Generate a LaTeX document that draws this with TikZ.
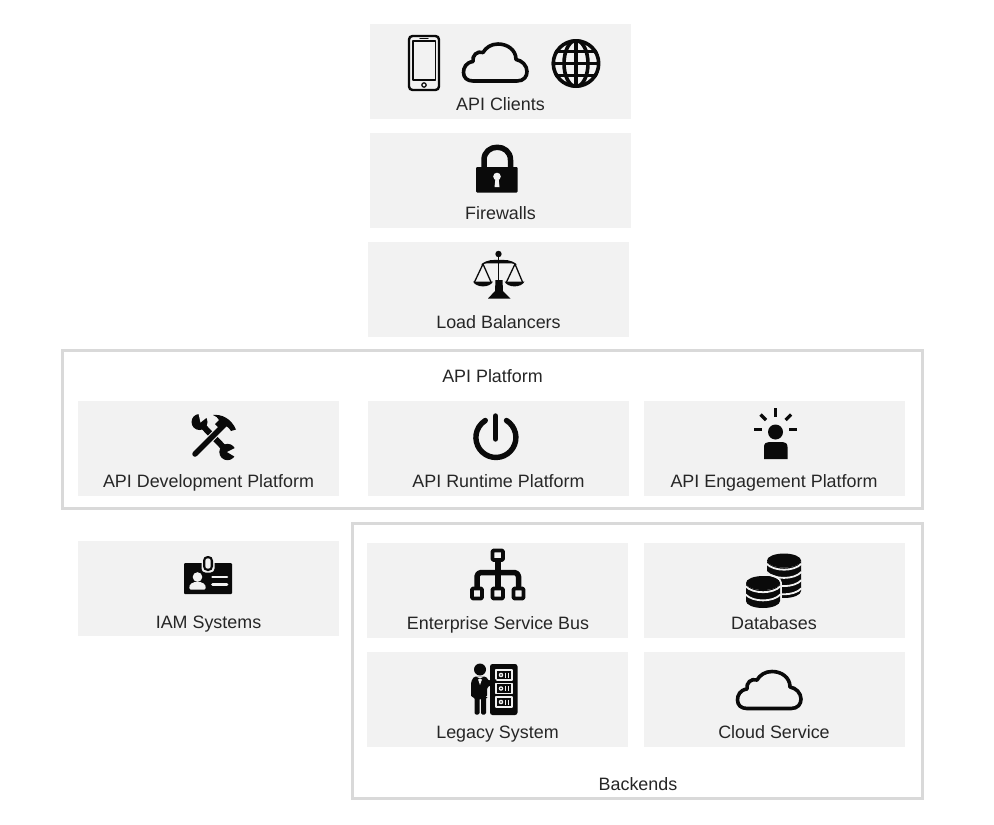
\documentclass[tikz,border=0pt]{standalone}
\usepackage{fontspec}
\setmainfont{Liberation Sans}
\definecolor{panelgray}{HTML}{F2F2F2}
\definecolor{framegray}{HTML}{D9D9D9}
\definecolor{inkdark}{HTML}{0A0A0A}
\definecolor{textdark}{HTML}{262626}
\tikzset{
  panel/.style={fill=panelgray,draw=none,inner sep=0pt,minimum width=261pt,minimum height=95pt},
  frame/.style={draw=framegray,line width=3pt,fill=white,inner sep=0pt},
  caption/.style={text=textdark,font=\fontsize{17.9}{20}\selectfont,inner sep=0pt,anchor=base},
  ink/.style={fill=inkdark,draw=none},
  inkline/.style={draw=inkdark,line cap=round,line join=round},
  gapline/.style={draw=panelgray,line cap=round,line join=round}
}
\newcommand{\cloudicon}[2]{%
  \begin{scope}[shift={(#1,#2)}]
    \draw[inkline,line width=3.6pt]
      (11,38.5) -- (55,38.5)
      .. controls (62,38.5) and (65,34) .. (65,29)
      .. controls (65,23) and (60,18) .. (54,17)
      .. controls (54,7) and (45,1.5) .. (36,1.5)
      .. controls (29,1.5) and (24,5) .. (21,10)
      .. controls (15,8) and (10,13) .. (11,19)
      .. controls (4,20) and (1.5,25) .. (1.5,30)
      .. controls (1.5,35) and (5,38.5) .. (11,38.5) -- cycle;
  \end{scope}}
\newcommand{\coinstack}[4]{% cx, top cy, number of gap arcs, bottom cy
  \fill[inkdark] (#1-17,#2) arc (180:360:17pt and 7pt) -- (#1+17,#4)
     arc (0:-180:17pt and 7pt) -- cycle;
  \fill[inkdark] (#1,#2) ellipse (17pt and 7pt);
  \foreach \k in {1,...,#3}{
    \draw[gapline,line width=1.8pt,line cap=butt] (#1-17.5,#2+8.2*\k-5) .. controls (#1-10,#2+8.2*\k+3) and (#1+10,#2+8.2*\k+3) .. (#1+17.5,#2+8.2*\k-5);
  }}
\begin{document}
\begin{tikzpicture}[x=1pt,y=-1pt]
\useasboundingbox (0,0) rectangle (994,825);
\fill[white] (0,0) rectangle (994,825);

% frames
\node[frame,minimum width=860pt,minimum height=158pt] (platformframe) at (492,429) {};
\node[frame,minimum width=570pt,minimum height=275pt] (backendframe) at (637,660.5) {};

% panels
\node[panel] (clients) at (500.5,71.5) {};
\node[panel] (firewalls) at (500.5,180.5) {};
\node[panel] (balancers) at (498.5,289.5) {};
\node[panel] (devplat) at (208.5,448.5) {};
\node[panel] (runplat) at (498.5,448.5) {};
\node[panel] (engplat) at (774,448.5) {};
\node[panel] (iam) at (208.5,588.5) {};
\node[panel] (esb) at (497.5,590) {};
\node[panel] (databases) at (774,590) {};
\node[panel] (legacy) at (497.5,699) {};
\node[panel] (cloudsvc) at (774,699.5) {};

% captions
\node[caption] (tclients) at (500.5,110) {API Clients};
\node[caption] (tfirewalls) at (500.5,219) {Firewalls};
\node[caption] (tbalancers) at (498.5,328) {Load Balancers};
\node[caption] (tplatform) at (492.5,382) {API Platform};
\node[caption] (tdev) at (208.5,487) {API Development Platform};
\node[caption] (trun) at (498.5,487) {API Runtime Platform};
\node[caption] (teng) at (774,487) {API Engagement Platform};
\node[caption] (tiam) at (208.5,628) {IAM Systems};
\node[caption] (tesb) at (498,629) {Enterprise Service Bus};
\node[caption] (tdb) at (774,629) {Databases};
\node[caption] (tlegacy) at (497.5,738) {Legacy System};
\node[caption] (tcloud) at (774,738) {Cloud Service};
\node[caption] (tbackends) at (638,790) {Backends};

% phone
\draw[inkline,line width=2.4pt,rounded corners=3.5pt] (409,36) rectangle (439,90);
\draw[inkline,line width=1.3pt] (413,41) rectangle (435.5,80);
\draw[inkline,line width=1.2pt] (424,85) circle (2.2pt);
\draw[inkline,line width=1.2pt] (420,38.3) -- (428,38.3);

% cloud (clients)
\cloudicon{462}{42.5}

% globe
\begin{scope}
  \clip (576,63.5) circle (24.5pt);
  \draw[inkline,line width=3.6pt,line cap=butt] (576,63.5) ellipse (12pt and 23pt);
  \draw[inkline,line width=3.6pt,line cap=butt] (576,39) -- (576,88);
  \draw[inkline,line width=3.6pt,line cap=butt] (551,63.5) -- (601,63.5);
  \draw[inkline,line width=3.6pt,line cap=butt] (551,51.5) -- (601,51.5);
  \draw[inkline,line width=3.6pt,line cap=butt] (551,75.5) -- (601,75.5);
\end{scope}
\draw[inkline,line width=3.6pt] (576,63.5) circle (22.7pt);

% lock
\draw[inkline,line width=5.5pt,line cap=butt] (484,170) -- (484,160) .. controls (484,143) and (510.5,143) .. (510.5,160) -- (510.5,170);
\fill[ink,rounded corners=1pt] (476,167) rectangle (517.5,192.5);
\fill[panelgray] (497,176.5) circle (3.8pt);
\fill[panelgray] (495.5,178) -- (498.5,178) -- (499.5,187) -- (494.5,187) -- cycle;

% scales
\fill[ink] (498.5,254) circle (3.2pt);
\draw[inkline,line width=1.8pt] (498.5,255) -- (498.5,284);
\fill[ink] (481,264.5) .. controls (488,259) and (493,260) .. (499,260) .. controls (505,260) and (510,259) .. (517,264.5) .. controls (510,262.5) and (505,263.5) .. (499,263.5) .. controls (493,263.5) and (488,262.5) .. (481,264.5) -- cycle;
\draw[inkline,line width=1.3pt] (474.5,282) -- (483,264) -- (491,282);
\draw[inkline,line width=1.3pt] (506.5,282) -- (515,264) -- (522.5,282);
\fill[ink] (473,281.5) -- (493,281.5) .. controls (490,288) and (476,288) .. (473,281.5) -- cycle;
\fill[ink] (504.5,281.5) -- (524.5,281.5) .. controls (521.5,288) and (507.5,288) .. (504.5,281.5) -- cycle;
\fill[ink] (495.5,280) -- (502.5,280) -- (503,291) -- (510.5,298.5) -- (488,298.5) -- (495,291) -- cycle;

% tools
\draw[inkline,line width=6pt,line cap=butt] (199,422) -- (228,452);
\fill[ink] (199.5,422) circle (8pt);
\fill[ink] (227.5,452) circle (8.2pt);
\fill[panelgray] (200.5,422.5) -- (198,411.5) -- (210.5,414.5) -- cycle;
\fill[panelgray] (227,452) -- (239,446) -- (238,458.5) -- cycle;
\draw[gapline,line width=7.5pt,line cap=butt] (204,445) -- (222,427);
\draw[inkline,line width=5.5pt] (195,454) -- (224,425);
\fill[ink] (213,415) .. controls (221,414) and (231,418) .. (236,429.5) -- (231,431) .. controls (229,428) and (227,426) .. (224.5,425.5) -- (220.5,429.5) -- (215,424) -- (219,420) .. controls (218,418) and (216,416) .. (213,415) -- cycle;

% power
\draw[inkline,line width=5.4pt,line cap=round] (506.5,420.5) arc (58:-238:20pt);
\draw[inkline,line width=5.4pt] (495.5,416) -- (495.5,439);

% engagement
\fill[ink] (775.5,432) circle (7.5pt);
\fill[ink] (764,459) -- (764,447) .. controls (764,443.5) and (766,442) .. (769,442) -- (782.5,442) .. controls (785.5,442) and (787.5,443.5) .. (787.5,447) -- (787.5,459) -- cycle;
\draw[inkline,line width=3.2pt,line cap=butt] (775.5,408) -- (775.5,417);
\draw[inkline,line width=3.2pt,line cap=butt] (760.5,414.5) -- (766,420);
\draw[inkline,line width=3.2pt,line cap=butt] (791,414.5) -- (785.5,420);
\draw[inkline,line width=3.2pt,line cap=butt] (754,429.5) -- (762,429.5);
\draw[inkline,line width=3.2pt,line cap=butt] (789,429.5) -- (797,429.5);

% id badge
\fill[ink,rounded corners=1pt] (184,563) rectangle (232,594);
\fill[panelgray,rounded corners=4pt] (201.5,558) rectangle (214.5,572.5);
\fill[ink,rounded corners=4.5pt] (203,556) rectangle (213,571);
\fill[panelgray,rounded corners=2.5pt] (205.3,558.3) rectangle (210.7,568.7);
\fill[panelgray] (197.5,577) circle (4.8pt);
\fill[panelgray,rounded corners=1.5pt] (189,589.5) -- (190,584) -- (196,581.5) -- (199,581.5) -- (205,584) -- (206,589.5) -- cycle;
\draw[gapline,line width=2.6pt] (212.5,577) -- (227,577);
\draw[gapline,line width=2.6pt] (212.5,584.5) -- (227,584.5);

% ESB
\draw[inkline,line width=3.8pt,rounded corners=1pt] (492.5,550.5) rectangle (503,560);
\draw[inkline,line width=3.8pt,rounded corners=1pt] (472,588.5) rectangle (482,598.5);
\draw[inkline,line width=3.8pt,rounded corners=1pt] (492.5,588.5) rectangle (503,598.5);
\draw[inkline,line width=3.8pt,rounded corners=1pt] (513.5,588.5) rectangle (523.5,598.5);
\draw[inkline,line width=5.5pt,line cap=butt] (498,561) -- (498,587);
\draw[inkline,line width=5.5pt,line cap=butt,rounded corners=4pt] (477,587) -- (477,572.5) -- (518.5,572.5) -- (518.5,587);

% databases
\coinstack{784}{560.5}{4}{591}
\draw[gapline,line width=2pt,line cap=butt] (745,583) arc (180:0:18pt and 8.5pt);
\draw[gapline,line width=2pt] (745,583) -- (745,600);
\draw[gapline,line width=2pt] (781,583) -- (781,603);
\fill[panelgray] (745,584) rectangle (781,610);
\coinstack{763}{583}{2}{601}

% legacy system
\fill[ink,rounded corners=2.5pt] (490,664) rectangle (517.5,715);
\foreach \yy in {670,683.5,697}{
  \draw[gapline,line width=1.2pt,line cap=butt] (496,\yy) rectangle (512,\yy+10);
  \fill[panelgray] (501,\yy+5) circle (2.3pt);
  \fill[inkdark] (501,\yy+5) circle (0.9pt);
  \draw[gapline,line width=1.2pt,line cap=butt] (505.5,\yy+2.5) -- (505.5,\yy+7.5);
  \draw[gapline,line width=1.2pt,line cap=butt] (508.5,\yy+2.5) -- (508.5,\yy+7.5);
}
\fill[ink] (480,669.5) circle (6pt);
\fill[ink,rounded corners=1.5pt] (471,697) -- (471,682) -- (474,676.5) -- (486,676.5) -- (489,681) -- (496,678.5) -- (497,681.5) -- (487,687.5) -- (487,697) -- (486,697) -- (486,714.5) -- (481,714.5) -- (481,698) -- (479.5,698) -- (479.5,714.5) -- (474.5,714.5) -- (474.5,697) -- cycle;
\fill[panelgray] (477,676.5) -- (483,676.5) -- (480,685) -- cycle;
\fill[ink] (480,678.5) -- (476.5,677) -- (476.5,680) -- cycle;
\fill[ink] (480,678.5) -- (483.5,677) -- (483.5,680) -- cycle;

% cloud (service)
\cloudicon{736}{670}
\end{tikzpicture}
\end{document}
